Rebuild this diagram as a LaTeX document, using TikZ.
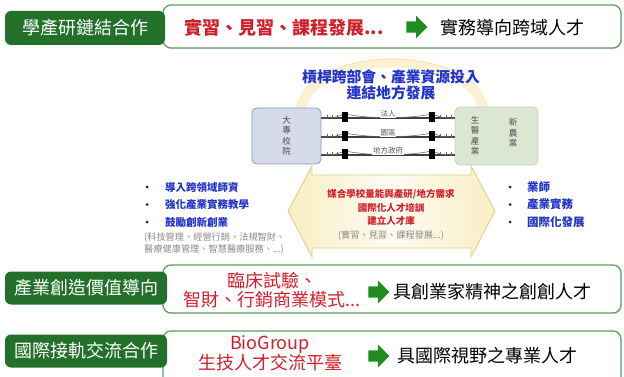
\documentclass[tikz,border=0pt]{standalone}
\usepackage{fontspec}
\setmainfont{Noto Sans CJK TC}
\usetikzlibrary{shapes.arrows,shadows}

\definecolor{labgreen}{HTML}{23702A}
\definecolor{boxgreen}{HTML}{5E9E5E}
\definecolor{arrgreen}{HTML}{1E8C1E}
\definecolor{redtxt}{HTML}{D0202A}
\definecolor{bluetxt}{HTML}{2233C8}
\definecolor{graytxt}{HTML}{8A8A8A}
\definecolor{univfill}{HTML}{D5DBEA}
\definecolor{univline}{HTML}{8C9BBC}
\definecolor{indfill}{HTML}{DCE7D3}
\definecolor{indline}{HTML}{C3D3B8}
\definecolor{glow}{HTML}{F6E7A8}
\definecolor{arrline}{HTML}{E0CC88}

\begin{document}
\begin{tikzpicture}[x=1pt,y=-1pt,
  rowbox/.style={draw=boxgreen,line width=1.3pt,fill=white,rounded corners=8pt,
    drop shadow={opacity=0.2,shadow xshift=0.8pt,shadow yshift=-1.2pt}},
  rowlabel/.style={fill=labgreen,rounded corners=6pt,text=white,inner sep=0pt,
    font=\fontsize{18}{18}\selectfont,minimum width=160pt,minimum height=34pt},
  acttext/.style={text=redtxt,font=\fontsize{18}{19}\selectfont,align=center,inner sep=0pt},
  outtext/.style={anchor=west,font=\fontsize{18}{18}\selectfont,inner sep=0pt},
  garrow/.style={single arrow,fill=arrgreen,inner xsep=0pt,inner ysep=5.5pt,minimum height=21pt,
    single arrow head extend=5.5pt},
  campus/.style={draw=#1line,fill=#1fill,rounded corners=5pt,line width=0.8pt},
  vtext/.style={text=black!70,font=\fontsize{8.5}{10.5}\selectfont,align=center,inner sep=0pt},
  deck/.style={draw=black!75,line width=1.1pt},
  cable/.style={draw=black!60,line width=0.55pt},
  tower/.style={fill=black,minimum width=6pt,minimum height=10pt,inner sep=0pt},
  bridgelab/.style={text=black!65,font=\fontsize{7.5}{7.5}\selectfont,fill=white,inner sep=0.6pt},
  dot/.style={circle,fill=bluetxt!50!black,minimum size=3pt,inner sep=0pt},
  bluelist/.style={anchor=west,text=bluetxt,font=\bfseries\fontsize{10.5}{10.5}\selectfont,inner sep=0pt},
  note/.style={text=graytxt,font=\fontsize{9.2}{12}\selectfont,align=left,inner sep=0pt}
]
\useasboundingbox (0,0) rectangle (624,377);
\clip (0,0) rectangle (624,377);

% row frames
\draw[rowbox] (163,5) rectangle (621,48);
\draw[rowbox] (163,265) rectangle (621,313);
\draw[rowbox] (163,331) rectangle (621,400);

% row 1
\node[rowlabel] (lab1) at (85,28) {學產研鏈結合作};
\node[acttext,font=\bfseries\fontsize{18}{19}\selectfont] (act1) at (284,28) {實習、見習、課程發展...};
\node[garrow] (arr1) at (414,27) {};
\node[outtext] (out1) at (440,28) {實務導向跨域人才};

% middle: title glow and arrow
\draw[glow,line width=9pt,opacity=0.5] (302,110) arc[start angle=180,end angle=360,x radius=90,y radius=47];
\draw[glow!70!orange,line width=1pt,opacity=0.35] (297,110) arc[start angle=180,end angle=360,x radius=95,y radius=51];
\node[text=bluetxt,font=\bfseries\fontsize{14.8}{16.5}\selectfont,align=center,inner sep=0pt] (title) at (391,85)
  {槓桿跨部會、產業資源投入\\連結地方發展};

\draw[draw=arrline,line width=0.8pt,left color=glow!70,right color=glow!70,middle color=glow!15]
  (288,211) -- (312,166) -- (312,175) -- (471,175) -- (471,166) -- (495,211)
  -- (471,257) -- (471,248) -- (312,248) -- (312,257) -- cycle;
\node[text=redtxt,font=\bfseries\fontsize{9.5}{13.5}\selectfont,align=center,inner sep=0pt] (linktxt) at (391,215)
  {媒合學校量能與產研/地方需求\\國際化人才培訓\\建立人才庫\\{\color{graytxt}\mdseries\fontsize{9.2}{13.5}\selectfont(實習、見習、課程發展...)}};

% campus and industry
\node[campus=univ,minimum width=69pt,minimum height=56pt] (univ) at (286.5,136) {};
\node[vtext] (univtxt) at (univ) {大\\專\\校\\院};
\node[campus=ind,minimum width=83pt,minimum height=58pt] (ind) at (496.5,136) {};
\node[vtext] (bio) at (475,136) {生\\醫\\產\\業};
\node[vtext] (agri) at (513,133) {新\\農\\業};

% bridges
\foreach \yy/\lab [count=\i] in {118/法人,137/園區,155/地方政府} {
  \draw[deck] (univ.east |- 0,\yy) -- (ind.west |- 0,\yy);
  \draw[cable] (univ.east |- 0,\yy) .. controls (334,\yy) .. (345,{\yy-4})
    .. controls (370,{\yy+1}) and (407,{\yy+1}) .. (432,{\yy-4})
    .. controls (443,\yy) .. (ind.west |- 0,\yy);
  \foreach \xx in {327,332,337,440,446,451}
    \draw[cable] (\xx,\yy) -- (\xx,{\yy-3});
  \node[tower] (twa\i) at (345,{\yy-1}) {};
  \node[tower] (twb\i) at (432,{\yy-1}) {};
  \node[bridgelab] (bl\i) at (388,{\yy-4}) {\lab};
}

% left list
\foreach \txt [count=\i] in {導入跨領域師資,強化產業實務教學,鼓勵創新創業} {
  \node[dot] (ldot\i) at (147,{169.5+17.5*\i}) {};
  \node[bluelist] (litem\i) at (165,{169.5+17.5*\i}) {\txt};
}
\node[note,anchor=north west] (lnote) at (144,232)
  {(科技管理、經營行銷、法規智財、\\醫療健康管理、智慧醫療服務、...)};

% right list
\foreach \txt [count=\i] in {業師,產業實務,國際化發展} {
  \node[dot] (rdot\i) at (510,{169.5+17.5*\i}) {};
  \node[bluelist,font=\bfseries\fontsize{11.5}{11.5}\selectfont] (ritem\i) at (527,{169.5+17.5*\i}) {\txt};
}

% row 2
\node[rowlabel,minimum width=162pt,minimum height=33pt] (lab2) at (86,288) {產業創造價值導向};
\node[acttext] (act2) at (272,290) {臨床試驗、\\智財、行銷商業模式...};
\node[garrow] (arr2) at (376,292) {};
\node[outtext] (out2) at (393,292) {具創業家精神之創創人才};

% row 3
\node[rowlabel,minimum width=162pt,minimum height=33pt] (lab3) at (86,351) {國際接軌交流合作};
\node[acttext] (act3) at (270,353) {BioGroup\\生技人才交流平臺};
\node[garrow] (arr3) at (376,356) {};
\node[outtext] (out3) at (397,356) {具國際視野之專業人才};
\end{tikzpicture}
\end{document}
